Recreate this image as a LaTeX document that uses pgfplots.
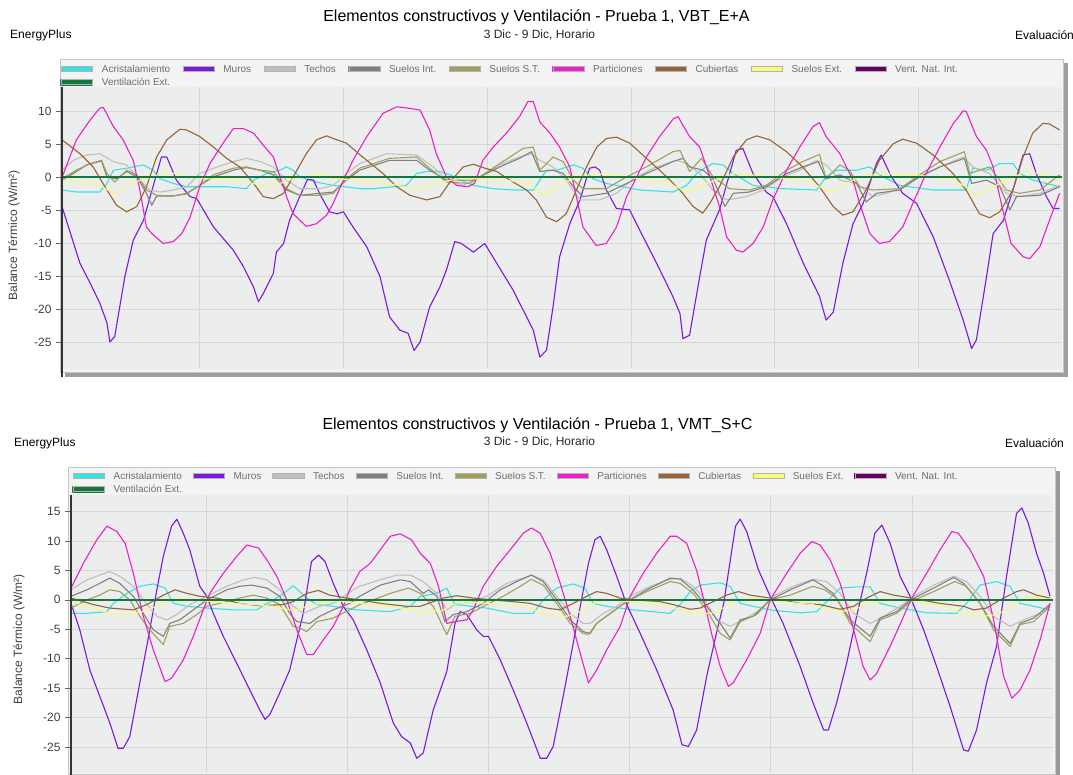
\documentclass[border=0pt]{standalone}
\usepackage{pgfplots}
\pgfplotsset{compat=1.18}
\usepackage{fontspec}
\setmainfont{Liberation Sans}

\definecolor{cAcr}{RGB}{51,228,228}
\definecolor{cMur}{RGB}{122,24,224}
\definecolor{cTec}{RGB}{190,190,190}
\definecolor{cSin}{RGB}{128,128,128}
\definecolor{cSst}{RGB}{160,160,90}
\definecolor{cPar}{RGB}{236,32,200}
\definecolor{cCub}{RGB}{150,100,55}
\definecolor{cSex}{RGB}{250,250,120}
\definecolor{cVni}{RGB}{100,0,100}
\definecolor{cVex}{RGB}{22,118,62}
\definecolor{plotbg}{RGB}{236,237,237}
\definecolor{framebg}{RGB}{243,243,243}
\definecolor{gridc}{RGB}{215,215,215}
\definecolor{txtgray}{RGB}{110,110,110}

\pgfplotsset{
  panel/.style={
    scale only axis,
    xmin=1, xmax=168,
    axis background/.style={fill=plotbg},
    axis line style={draw=none},
    xtick={24,48,72,96,120,144},
    xticklabels={},
    xtick style={draw=none},
    ytick pos=left,
    tick align=outside,
    ytick style={draw=black!60, line width=0.6pt},
    major tick length=6pt,
    grid=major,
    major grid style={draw=gridc, line width=0.6pt},
    yticklabel style={font=\fontsize{12}{14}\selectfont, text=black!75, xshift=-1pt},
    /pgf/number format/assume math mode=true,
    ylabel={Balance Térmico (W/m²)},
    ylabel style={font=\fontsize{12}{14}\selectfont, text=black!75, anchor=center},
    legend columns=9,
    legend cell align=left,
    legend style={draw=none, fill=none, font=\fontsize{10}{12}\selectfont, text=txtgray,
      anchor=north west, inner sep=0pt,
      nodes={inner sep=1.5pt, text height=8pt, text depth=2pt}},
    legend image code/.code={\fill[##1] (0pt,-2.5pt) rectangle (31pt,2.5pt);
      \draw[black!30, line width=0.5pt] (0pt,-2.5pt) rectangle (31pt,2.5pt);
      \path (38pt,0pt);},
    every axis plot/.append style={line width=1.1pt, line join=round},
    extra description/.code={\draw[black!80, line width=1.3pt] (axis description cs:0,-0.03) -- (axis description cs:0,1);},
  }
}

\begin{document}
\begin{tikzpicture}[x=1pt,y=1pt]
\useasboundingbox (0pt,0pt) rectangle (1073pt,774pt);

% ---------- top panel texts ----------
\node[font=\fontsize{16}{19}\selectfont] at (536.5pt,757pt) {Elementos constructivos y Ventilación - Prueba 1, VBT\_E+A};
\node[font=\fontsize{12}{14}\selectfont, text=black!85] at (539.5pt,739pt) {3 Dic - 9 Dic, Horario};
\node[font=\fontsize{12}{14}\selectfont, anchor=west, inner sep=0pt] at (10pt,739pt) {EnergyPlus};
\node[font=\fontsize{12}{14}\selectfont, anchor=west, inner sep=0pt] at (1015pt,739pt) {Evaluación};

% frame top
\fill[black!38] (65pt,397pt) rectangle (1068pt,711pt);
\filldraw[fill=framebg, draw=black!22, line width=0.8pt] (60pt,402pt) rectangle (1063pt,715pt);

\begin{axis}[panel, at={(62pt,405pt)}, anchor=south west, width=1000pt, height=282pt,
  ymin=-29, ymax=13.7, ytick={-25,-20,...,10},
  ylabel style={at={(axis description cs:-0.048,0.475)}},
  legend style={at={(axis description cs:-0.0018,1.087)},
    /tikz/every even column/.append style={column sep=11pt}}]
\addplot[cAcr] coordinates {(1,-1.9) (3.4,-2.2) (7.3,-2.2) (8.5,-0.9) (9.6,1.1) (11.8,1.4) (14.6,1.9) (16.2,1.1) (17.4,-0.2) (19.6,-0.9) (21.8,-1.4) (25.2,-1.4) (28.5,-1.4) (31.8,-1.7) (33,-0.4) (35.2,0.6) (37.4,1.1) (38.5,1.6) (39.6,1.1) (40.7,0.1) (43.5,-0.7) (46.3,-1.2) (50.8,-1.7) (53,-1.7) (58.5,-1.2) (60.2,0.6) (61.9,0.9) (64.1,0.9) (65.8,0.4) (67.4,-0.3) (69.7,-1.2) (73,-1.7) (76.3,-1.9) (79.7,-1.9) (80.8,-0.4) (81.9,1.1) (83.6,1.1) (86.4,1.9) (88,1.4) (89.7,-0.2) (91.9,-0.9) (97.5,-1.9) (103.1,-2.2) (105.3,-1.2) (107,0.6) (108.6,1.6) (109.7,2.1) (111.4,1.9) (113.1,0.6) (116.4,-1.2) (121.4,-1.7) (127,-1.9) (128.6,0.1) (130.3,1.1) (133.7,1.1) (135.9,1.6) (137.5,0.4) (140.9,-1.2) (146.5,-1.9) (152,-1.9) (153.1,1.4) (155.4,1.1) (157.6,2.1) (159.8,2.1) (161,0.6) (163.1,-0.4) (167.6,-1.4)};
\addlegendentry{Acristalamiento}
\addplot[cMur] coordinates {(1,-4.4) (4,-13) (5.7,-16) (7.3,-19) (8.5,-22) (9,-24.9) (9.8,-24.1) (11.5,-15) (12.9,-9.5) (14.6,-6.5) (16.2,-1.4) (17.6,3.1) (18.5,3.1) (20.1,-0.4) (22.4,-2.9) (23.5,-3.2) (26.3,-7.5) (29.6,-11) (31.3,-13.5) (33,-16.6) (33.8,-18.8) (34.6,-17.6) (36.3,-14.5) (36.8,-11.3) (38,-10) (39,-6.5) (40.7,-2.9) (42,-0.3) (43,-0.4) (44,-2.4) (45.7,-5.2) (46.9,-5.5) (48,-5.2) (49.6,-7.5) (51.9,-10.5) (54.1,-15) (55.7,-21.1) (57.4,-23.1) (58.8,-23.6) (59.8,-26.2) (60.8,-24.9) (62.4,-19.6) (64.1,-16.6) (65.2,-14) (66.6,-9.7) (67.7,-10) (69.7,-11.3) (71.6,-10) (73.6,-13) (76.3,-17) (79.7,-23.1) (80.8,-27.2) (81.9,-26.2) (83,-19.6) (84.1,-12) (85.8,-7) (87.5,-3.4) (89.1,1.4) (90,1.6) (90.8,1.1) (91.9,-1.9) (93.6,-4.7) (95.8,-4.9) (97.5,-8) (100.3,-13) (103,-18) (104.2,-20.6) (104.7,-24.4) (105.8,-23.9) (107.5,-15) (108.6,-9.5) (110.8,-4.9) (112.5,0.6) (113.6,4.1) (114.7,4.4) (116.4,0.6) (118.6,-2.2) (119.7,-2.9) (122,-7) (124.8,-13) (127.5,-18) (128.6,-21.6) (129.8,-20.4) (131.4,-13) (133.1,-7) (134.8,-3.9) (137,2.1) (137.8,3.4) (139.5,0.1) (141.4,-2.4) (143.7,-3.9) (146.5,-9) (149.2,-15.6) (151.5,-21.6) (152.9,-25.9) (153.7,-24.6) (155.4,-15) (156.5,-8.5) (158.2,-6.5) (159.8,-1.9) (161.5,3.4) (162.6,3.6) (163.7,0.6) (165.4,-2.9) (166.5,-4.7) (167.6,-4.7)};
\addlegendentry{Muros}
\addplot[cTec] coordinates {(1,1.1) (2.9,2.6) (5.1,3.4) (7.3,3.6) (9.6,2.4) (11.8,1.9) (14,-0.4) (15.7,-1.9) (17.4,-2.2) (19.6,-1.9) (21.8,-1.4) (24,0.6) (26.3,1.4) (29.6,2.4) (31.8,2.9) (34.1,2.4) (36.3,1.6) (38.5,-0.4) (40.7,-1.7) (44.1,-1.7) (46.3,-1.2) (48.5,0.6) (50.7,2.1) (55.2,3.6) (60.2,3.4) (63,1.6) (65.2,-0.4) (68,-1.2) (70.8,0.1) (74.1,1.9) (77.4,3.1) (79.4,3.6) (80.8,2.6) (83,1.6) (85.2,-0.4) (87.5,-3.4) (90.8,-3.4) (93.6,-2.4) (96.4,-0.2) (99.7,1.4) (103.6,2.6) (105.3,2.1) (107.5,0.6) (109.7,-1.9) (112,-3.4) (115.3,-2.9) (118.1,-1.9) (121.4,0.1) (124.2,1.1) (127,2.6) (128.6,1.9) (130.9,-0.4) (133.7,-0.9) (136.4,-2.9) (138.7,-2.4) (141.4,-1.4) (144.2,0.1) (147.6,1.6) (151.5,3.1) (153.1,1.6) (155.9,0.6) (158.7,-2.4) (160.9,-2.9) (164.3,-2.4) (167.6,-1.2)};
\addlegendentry{Techos}
\addplot[cSin] coordinates {(1,-0.4) (2.9,0.6) (5.1,1.9) (7.6,2.5) (8.5,0.1) (10.1,-0.2) (11.8,0.9) (13.5,0.1) (15.1,-2.4) (16,-4.2) (16.8,-2.8) (19.6,-2.8) (21.8,-2.4) (24,-1.2) (26.3,0.1) (29.6,1.1) (31.8,1.5) (34.1,1.1) (36.3,0.4) (38.5,-1.9) (40.7,-2.7) (44.1,-2.4) (46.3,-2.2) (48.5,-0.4) (50.7,1.1) (55.7,2.6) (60.2,2.6) (62.4,1.1) (65.2,-0.4) (69.7,-0.4) (74.1,1.6) (77.4,2.9) (79.4,3.9) (80.8,0.9) (83,1.1) (84.7,0.6) (86.4,-1.4) (88,-2.9) (91.9,-2.4) (95.3,-0.9) (98.6,0.6) (103,2.4) (104.7,2.9) (105.8,1.6) (108.1,1.1) (109.7,-0.2) (111.7,-4.4) (113.1,-2.4) (115.8,-2.2) (118.6,-1.4) (122,0.6) (124.7,1.6) (127.3,2.4) (128.6,-0.2) (130.9,0.4) (133.7,-0.9) (135.3,-3.7) (137,-2.4) (140.9,-1.9) (144.2,0.1) (147.6,1.6) (151.7,2.9) (152.9,-0.9) (155.4,-0.4) (157.6,-1.4) (159.3,-4.9) (160.4,-2.9) (164.3,-2.7) (167.6,-1.4)};
\addlegendentry{Suelos Int.}
\addplot[cSst] coordinates {(1,-0.2) (3.4,1.1) (5.7,2.1) (7.6,2.6) (8.5,0.6) (9.8,-0.7) (11.8,1.1) (13.5,0.4) (15.1,-1.9) (16.8,-2.7) (19.6,-2.8) (21.8,-2.5) (24,-1.2) (26.3,0.4) (29.6,1.4) (31.8,1.6) (34.1,1.1) (36.3,0.9) (38.5,-1.7) (40.7,-2.7) (44.1,-2.7) (46.3,-2.4) (48.5,-0.2) (50.7,1.4) (55.7,2.9) (60.2,3.1) (62.4,1.4) (65.2,-0.7) (69.1,-0.9) (74.1,2.1) (78,4.4) (79.7,4.6) (80.8,1.1) (83,3.1) (84.7,2.4) (86.4,-0.4) (88,-1.7) (91.9,-1.7) (95.3,0.1) (98.6,1.6) (103,3.9) (104.2,4.1) (105.8,0.9) (107.8,2.9) (109.7,0.1) (112.5,-1.7) (115.8,-1.9) (118.6,-1.2) (122,1.1) (124.7,2.4) (127.5,3.5) (128.6,-0.2) (130.9,1.9) (132.5,1.1) (134.2,-1.4) (136.4,-1.9) (140.9,-1.7) (144.2,0.4) (147.6,2.4) (151.7,3.9) (152.6,0.6) (154.2,1.1) (155.9,1.6) (157.6,-0.4) (158.7,-1.9) (160.9,-2.4) (164.3,-1.9) (167.6,0.4)};
\addlegendentry{Suelos S.T.}
\addplot[cPar] coordinates {(1,0) (3.4,5.7) (5.7,8.7) (7.3,10.5) (7.9,10.6) (9.6,7.7) (11.2,5.7) (12.9,2.6) (14,-1.9) (15.1,-7.5) (16,-8.5) (17.9,-10) (19.6,-9.7) (21,-8.5) (22.4,-6) (24,-1.4) (25.7,2.1) (27.9,5.2) (29.6,7.4) (31.3,7.4) (33,6.7) (34.6,4.9) (36.3,3.1) (37.4,0.1) (38.5,-2.9) (39.6,-5.5) (41.8,-7.4) (43.5,-7) (45.2,-5.7) (46.3,-3.9) (48,-0.4) (49.6,2.6) (51.9,6.2) (54.6,9.7) (56.9,10.7) (58.8,10.5) (60.8,10.2) (62.4,7.2) (63.5,3.6) (65.2,0.1) (66.9,-1.2) (68.8,-1.4) (69.9,-0.9) (71.3,2.6) (73,4.6) (75.2,6.7) (77.4,9.2) (78.8,11.5) (79.7,11.5) (80.8,8.4) (82.5,6.7) (84.1,4.6) (85.8,1.6) (86.9,-2.9) (88,-7.5) (90.2,-10.3) (91.9,-10) (93.6,-7.5) (95.3,-2.9) (97,0.1) (98.6,3.1) (100.8,6.2) (103.1,8.9) (103.9,9.2) (104.7,7.9) (105.8,6.2) (107.5,4.6) (109.2,0.1) (110.8,-4.4) (112,-9) (113.6,-11) (114.7,-11.3) (116.4,-10) (118.1,-7.5) (119.7,-3.4) (122,1.1) (124.2,4.6) (126.4,7.7) (127.5,8.3) (128.6,6.2) (130.9,3.6) (133.1,-0.4) (134.2,-3.9) (135.9,-8.5) (137.5,-10) (139.2,-9.7) (141.4,-7.5) (143.1,-3.9) (145.3,0.6) (147.6,4.6) (149.8,8.1) (151.5,10.1) (152,10) (153.7,6.2) (155.4,4.1) (156.5,1.6) (158.1,-4.9) (159.5,-10) (161.5,-12) (162.6,-12.3) (164.3,-10.5) (165.9,-6.5) (167.6,-2.4)};
\addlegendentry{Particiones}
\addplot[cCub] coordinates {(1,5.7) (4,3.6) (6.2,1.6) (8.5,-1.9) (10.1,-4.2) (11.8,-5.2) (13.5,-4.4) (15.1,-1.4) (16.8,3.1) (18.5,5.7) (20.7,7.3) (21.8,7.2) (24,6.2) (26.3,4.6) (28.5,2.9) (30.7,1.6) (33,-0.9) (34.6,-2.9) (36.3,-3.2) (38,-2.4) (39.6,0.1) (41.8,3.6) (43.5,5.7) (45.2,6.3) (46.9,5.7) (48.5,5.2) (50.8,3.4) (51.9,2.6) (54.6,0.6) (56.9,-1.4) (59.1,-2.7) (61.9,-3.4) (64.1,-2.9) (65.8,-0.7) (68,1.6) (69.7,2) (71.3,1.5) (73.6,0.9) (75.8,-0.4) (78.6,-1.9) (80.2,-3.4) (81.9,-6) (83.6,-6.7) (85.2,-5.5) (86.9,-1.9) (88.6,1.6) (90.3,4.6) (91.9,5.9) (93.6,6.1) (95.8,5.2) (98.6,2.9) (101.4,0.6) (104.2,-1.9) (106.4,-4.4) (108,-5.4) (109.2,-3.9) (110.8,-1.4) (113.1,3.1) (115.3,5.7) (117,6.3) (119.2,5.7) (122,3.9) (124.7,1.6) (127.5,-1.4) (129.8,-4.4) (131.4,-5.7) (133.1,-5.2) (135.3,-1.9) (137.5,2.6) (139.8,5.1) (141.4,5.8) (143.7,5.2) (146.5,3.4) (149.8,0.6) (152,-1.9) (154.2,-5.5) (155.9,-6.1) (157.6,-5.2) (159.8,-1.9) (161.5,3.1) (163.1,6.7) (164.8,8.2) (165.9,8.1) (167.6,7.2)};
\addlegendentry{Cubiertas}
\addplot[cSex] coordinates {(1,-0.4) (4.6,-0.7) (7.3,-1.2) (9.6,-2.4) (11.2,-1.9) (12.9,-0.7) (15.1,-0.2) (18.5,0.9) (21.8,0.1) (25.2,-0.2) (29.6,-0.4) (33,-0.9) (34.6,-1.4) (37.4,-0.9) (40.7,0.1) (44.1,0.4) (46.3,-0.2) (50.8,-0.4) (53,-0.7) (57.4,-1.2) (59.6,-1.7) (61.9,-1.4) (64.1,-0.7) (67.4,-0.2) (70.8,-0.2) (75.2,-0.4) (79.1,-0.9) (81.3,-2.7) (83.6,-1.4) (86.4,-0.2) (89.7,0.6) (93.1,0.4) (97.5,-0.2) (102,-0.7) (105.3,-2.2) (107.5,-1.3) (110.8,-0.2) (113.1,0.6) (116.4,0.4) (122,-0.2) (125.9,-0.7) (127.5,-1.4) (129.5,-2.2) (131.4,-1.2) (134.2,0.1) (138.1,0.6) (143.7,0.4) (149.8,-0.4) (152,-1.4) (153.1,-2.9) (155.4,-1.9) (158.7,-0.4) (162,0.9) (165.4,0.4) (167.6,-0.2)};
\addlegendentry{Suelos Ext.}
\addplot[cVni] coordinates {(1,0) (168,0)};
\addlegendentry{Vent. Nat. Int.}
\addplot[cVex, line width=2pt] coordinates {(1,0) (168,0)};
\addlegendentry{Ventilación Ext.}
\end{axis}

% ---------- bottom panel texts ----------
\node[font=\fontsize{16}{19}\selectfont] at (537.5pt,349pt) {Elementos constructivos y Ventilación - Prueba 1, VMT\_S+C};
\node[font=\fontsize{12}{14}\selectfont, text=black!85] at (539.5pt,332pt) {3 Dic - 9 Dic, Horario};
\node[font=\fontsize{12}{14}\selectfont, anchor=west, inner sep=0pt] at (14pt,331pt) {EnergyPlus};
\node[font=\fontsize{12}{14}\selectfont, anchor=west, inner sep=0pt] at (1005pt,331pt) {Evaluación};

\fill[black!40] (72pt,-5pt) rectangle (1060pt,303pt);
\filldraw[fill=framebg, draw=black!22, line width=0.8pt] (68pt,0pt) rectangle (1055pt,307pt);

\begin{axis}[panel, at={(71pt,1pt)}, anchor=south west, width=982pt, height=278pt,
  ymin=-29.4, ymax=17.8, ytick={-25,-20,...,15},
  ylabel style={at={(axis description cs:-0.053,0.482)}},
  legend style={at={(axis description cs:0.001,1.092)},
    /tikz/every even column/.append style={column sep=9.5pt}}]
\addplot[cAcr] coordinates {(1,-2.3) (3.7,-2.3) (7.1,-2) (8.2,-0.6) (10.5,1.1) (12.7,2.3) (15,2.7) (17,2) (18.4,-0.6) (20.7,-1.1) (24.1,-1.4) (28.6,-1.7) (32.6,-1.7) (34.3,-0.6) (36.5,0.6) (38.8,2.4) (39.9,1.4) (41.1,0.3) (42.8,-0.8) (45.6,-1.1) (49.6,-1.7) (55.3,-2) (58.7,-1.1) (60.4,0.6) (63.2,1.1) (64.9,2) (66.3,-0.8) (68.3,-1) (71.7,-1.4) (76.2,-2.3) (79.6,-2.3) (81.3,0) (83.6,2) (86.4,2.7) (88.4,2) (89.8,-0.6) (92.1,-1.1) (96.6,-1.7) (102.9,-2.3) (104.6,-0.8) (106.3,1.4) (108,2.5) (111.4,2.9) (113.1,2.3) (114.8,-0.6) (117,-1.1) (120.4,-1.8) (125,-2.2) (127.8,-2) (129.5,-0.3) (131.8,2) (134.6,2.2) (136.9,2.2) (138.6,-0.6) (142,-1.4) (146.5,-2.2) (151.6,-2.3) (153.3,-0.6) (155.6,2.5) (158.4,3.1) (160.7,2.3) (162.4,-0.6) (164.7,-1.1) (167.5,-1.7)};
\addlegendentry{Acristalamiento}
\addplot[cMur] coordinates {(1,-0.6) (2.5,-5.1) (4.2,-11.9) (5.9,-16.4) (7.6,-20.9) (9,-25.2) (9.9,-25.2) (11,-23.2) (12.7,-14.1) (14.2,-6.2) (15.6,1.7) (16.7,7.4) (18.1,12.5) (19,13.7) (20.1,11.3) (21.2,8.5) (22.9,2.3) (24.1,0.6) (25.2,-2.3) (26.9,-6.2) (29.2,-10.8) (31.4,-15.3) (33.1,-18.7) (34,-20.3) (34.8,-19.5) (36.5,-15.8) (38.2,-11.9) (39.4,-6.8) (40.5,-2.3) (41.9,6.5) (43.1,7.6) (44.2,6.5) (45.6,2.8) (47.3,-1.1) (49,-3.4) (51.3,-8.5) (53.6,-14.1) (55.8,-20.9) (57.2,-23.2) (58.7,-24.3) (59.8,-26.9) (60.9,-26) (62.6,-18.7) (64.9,-12.2) (66.3,-4) (67.2,-2) (68.3,-2.5) (70,-5.1) (71.1,-6.2) (72,-6.2) (74,-10.2) (76.2,-15.3) (78.5,-20.9) (80.8,-26.9) (81.9,-26.9) (83,-24.9) (84.7,-16.4) (86.4,-7.4) (87.6,-1.1) (89,6.2) (90.1,10.2) (91,10.8) (92.1,8.5) (93.8,4) (95.5,-0.8) (97.8,-5.7) (100.6,-11.9) (103.4,-18.7) (104.9,-24.6) (106,-24.9) (107.4,-22.1) (109.1,-13) (110.8,-5.5) (112,-0.6) (114,12.5) (114.8,13.7) (115.9,11.6) (117.9,5.1) (119.9,0.6) (122.1,-4) (125,-11.3) (127.2,-17.5) (129,-22.1) (129.8,-22.1) (131.2,-17.5) (132.9,-10.8) (134.6,-2.8) (136.3,4.5) (137.7,11.3) (138.9,12.7) (140.3,9.6) (142,4) (143.7,0.6) (146,-5.1) (148.2,-11.3) (150.5,-18.1) (152.8,-25.5) (153.6,-25.7) (155,-22.1) (156.7,-14.1) (158.4,-7.9) (160.1,4) (161.8,14.7) (162.7,15.6) (163.8,13) (165.2,7.9) (166.4,4.5) (167.5,0.6)};
\addlegendentry{Muros}
\addplot[cTec] coordinates {(1,1.7) (3.7,3.4) (5.9,4.2) (7.6,4.8) (9.3,4) (11.6,2.3) (13.3,0) (15.6,-2.8) (17.3,-3.4) (19,-2.5) (21.2,-0.8) (24.1,0.6) (27.5,2.3) (30.3,3.4) (32.3,3.8) (34.3,3.4) (36.5,1.7) (38.2,-0.6) (40.5,-2.3) (43.3,-1.1) (45.6,-0.6) (49,1.7) (50.1,2.3) (53.6,3.4) (56.4,4.2) (58.7,4.2) (60.9,3.1) (63.2,1.1) (64.9,-1.7) (66.6,-0.6) (69.4,-0.3) (71.7,0.6) (75.1,2.8) (77.9,3.7) (79.3,4.2) (81.3,3.4) (83.6,0.6) (85.9,-2.3) (88.1,-4) (89.3,-4) (91.5,-2.3) (93.8,-1.1) (96.1,0.6) (99.5,2.3) (102.9,3.5) (104.6,3.7) (106.8,2.3) (108.5,0.5) (110.8,-3.4) (113.1,-4.5) (115.3,-3.4) (118.2,-1.7) (120.4,0.6) (123.8,2.3) (127.2,3.5) (129.5,3.1) (131.8,1.1) (134.1,-2.3) (136.9,-4) (139.2,-2.8) (142,-1.1) (144.3,0.6) (147.7,2.5) (151.1,4) (153.3,3.1) (155.6,0.6) (157.9,-2.8) (160.7,-4.5) (163,-3.4) (165.8,-2.3) (167.5,-0.6)};
\addlegendentry{Techos}
\addplot[cSin] coordinates {(1,0.6) (3.7,1.7) (5.9,2.8) (7.6,3.7) (9.3,2.8) (11.6,0.6) (13.3,-2.3) (15,-5.1) (16.7,-6.2) (17.8,-4) (19.5,-3.4) (21.8,-1.7) (24.1,0) (27.5,1.7) (29.7,2.3) (31.7,2.5) (34.3,2) (36.5,0.6) (38.2,-2.3) (39.4,-3.7) (41.6,-4) (43.3,-2.8) (45.6,-1.7) (48.4,-0.6) (50.1,0.6) (53.6,2.5) (57,3.4) (58.7,3.1) (60.9,1.1) (61.8,1.7) (63.2,0.6) (64.6,-3.7) (66,-2.5) (68.3,-2) (71.1,-0.6) (74,1.7) (76.8,3.1) (79.3,4.2) (81.3,3.1) (83.6,0) (85.9,-3.4) (88.1,-5.4) (89.3,-5.7) (90.4,-4) (92.7,-2.3) (95.5,-0.3) (98.9,1.7) (102.9,3.7) (104.6,3.5) (106.8,1.7) (109.1,-1.1) (111.4,-4) (113.1,-6.5) (114.8,-3.4) (117,-2.8) (119.9,0) (123.3,1.7) (127.2,3.4) (128.7,2.5) (130.6,1.1) (133.5,-3.4) (136.9,-6.2) (138.6,-3.1) (141.4,-2) (143.8,0) (147.7,2) (151.1,3.8) (152.8,2.8) (155.6,-0.6) (157.9,-4.5) (160.7,-7.4) (162.4,-4) (164.7,-3.1) (167.5,-0.8)};
\addlegendentry{Suelos Int.}
\addplot[cSst] coordinates {(1,-1.4) (3.7,0) (5.9,0.8) (7.6,1.7) (9.3,1.4) (11,0) (12.7,-2.8) (14.4,-5.1) (16.7,-7.6) (17.8,-4.5) (20.1,-4) (22.4,-2.5) (24.1,-1.1) (27.5,-0.3) (29.7,0.3) (32,0.8) (34.3,0.3) (36.5,-0.8) (38.8,-4.5) (39.9,-4.8) (41.1,-5.4) (42.8,-3.7) (45.6,-3.1) (48.4,-1.7) (50.1,-0.8) (52.4,0) (55.3,1.1) (58.4,2) (60.4,1.1) (62.6,-1.1) (64.9,-5.9) (66.3,-2.8) (68.9,-2.3) (71.7,-0.8) (74.5,0.6) (77.4,2.3) (79.3,3.5) (81.3,2.5) (83.6,-0.6) (85.9,-4) (88.1,-5.7) (89,-5.9) (90.4,-4) (92.7,-2.3) (95.5,-0.3) (98.9,1.4) (102.9,3.1) (104.6,2.8) (106.8,1.1) (109.1,-1.7) (111.4,-5.7) (113.1,-6.8) (114.8,-3.7) (117.6,-2.5) (119.9,0) (123.3,0.8) (127.2,2.3) (129.2,1.7) (131.2,0.3) (133.5,-4) (136.9,-7.1) (138.6,-3.4) (141.4,-2.3) (143.8,-0.3) (147.7,1.4) (151.3,3.1) (153.3,2.3) (155.6,-0.6) (157.9,-5.1) (160.7,-7.9) (162.4,-4.2) (164.7,-3.7) (167.5,-1.1)};
\addlegendentry{Suelos S.T.}
\addplot[cPar] coordinates {(1,2) (3.1,6.2) (5.4,10.2) (7.1,12.5) (8.8,11.6) (10.2,9.6) (11.6,4.5) (13.3,-2.8) (15,-8.5) (17,-13.9) (18.1,-13.3) (20.1,-10.2) (21.8,-6.2) (23.5,-1.7) (24.6,1.1) (26.9,4.5) (29.2,7.4) (30.9,9.3) (32.9,8.8) (34.3,6.8) (36,4) (37.7,0) (39.4,-5.1) (41.1,-9.3) (42.2,-9.3) (43.9,-6.8) (45.6,-4.5) (47.3,-1.1) (48.4,1.7) (50.1,4.8) (51.9,6.2) (55.3,10.8) (57,11.2) (58.9,10.2) (60.4,7.9) (62.1,6.2) (63.5,2.3) (64.9,-4) (66.3,-3.7) (68.3,-3.4) (69.4,-1.7) (71.1,2.3) (73.4,5.7) (75.7,8.5) (77.9,11.3) (79.3,12.2) (80.8,11.3) (82.5,7.9) (84.2,2.8) (85.9,-2.8) (87.6,-9.1) (89,-14.1) (90.4,-11.9) (92.1,-8.5) (94.4,-4.5) (96.1,0.6) (98.3,4.5) (100.6,7.9) (102.9,10.8) (104,10.8) (105.7,9.6) (107.4,5) (108.6,0) (110,-6) (111.4,-11.3) (112.8,-14.7) (113.6,-14.1) (115.9,-10.2) (118.2,-5.7) (119.9,0) (122.7,4.5) (125,7.9) (127,9.9) (128.4,9.3) (130.1,6.8) (131.8,2.8) (134.1,-5.1) (135.7,-11.3) (136.9,-13.6) (138,-12.5) (140.3,-7.9) (142.6,-2.8) (143.8,0) (146.5,4.5) (148.8,8.5) (150.8,11.6) (151.9,11.3) (153.9,8.5) (156.2,4) (157.9,-3.4) (159.6,-13) (161,-16.7) (162.4,-15.3) (164.1,-11.9) (165.8,-6.8) (167.5,-0.6)};
\addlegendentry{Particiones}
\addplot[cCub] coordinates {(1,0.3) (4.8,-0.8) (7.6,-1.4) (11.6,-1.7) (13.9,-0.8) (16.7,0.8) (18.7,1.7) (20.7,1.1) (22.9,0.6) (25.8,0.3) (29.7,-0.6) (33.1,-1) (37.1,-0.8) (38.8,-0.3) (41.1,1.1) (43.1,1.6) (45,0.8) (47.9,0.3) (50.1,0) (53.6,-0.6) (58.1,-1.1) (60.4,-1.1) (62.6,-0.3) (64.3,0.3) (66.6,0.7) (69.4,0.3) (72.3,0) (76.2,-0.3) (79.1,-0.6) (81.9,-1.4) (84.2,-1.7) (86.4,-0.6) (88.7,0.6) (90.4,1.4) (92.1,1.1) (94.4,0.3) (96.6,0) (101.2,-0.3) (103.4,-0.8) (106.3,-1.6) (108,-1.4) (110.2,-0.3) (112.5,0.8) (114.5,1.4) (116.5,0.8) (119.9,0.3) (125,-0.6) (128.4,-0.8) (131.8,-1.6) (134.1,-1.1) (136.3,0.3) (138.6,1.4) (140.9,0.8) (143.8,0.3) (148.8,-0.6) (152.8,-1.1) (154.5,-1.7) (156.7,-1.4) (159,0) (161.8,1.4) (163,1.7) (165.2,0.8) (167.5,0.3)};
\addlegendentry{Cubiertas}
\addplot[cSex] coordinates {(1,-0.3) (4.8,-1.4) (7.6,-2.3) (10.5,-2.5) (13.3,-2) (15.6,-1.1) (17.3,-0.3) (19,0.3) (21.8,0) (25.2,-0.3) (28.6,-0.6) (32,-0.8) (35.4,-1.1) (38.2,-1.7) (39.4,-1.7) (41.1,-1.1) (43.3,-0.6) (45.6,-0.1) (50.1,-0.6) (54.7,-1.1) (59.2,-1.7) (60.9,-2.5) (62.1,-1.7) (63.8,-2) (66,-0.8) (68.3,-0.3) (71.7,-0.6) (75.1,-0.8) (79.1,-1.4) (81.9,-2.5) (85.3,-2.8) (87.6,-2) (89.8,-0.6) (92.1,0) (96.1,-0.3) (100,-0.8) (103.4,-1.4) (106.8,-2.3) (109.1,-2.3) (110.2,-2.2) (112.5,-1.1) (114.2,0) (117,0.3) (119.9,0) (123.8,-0.5) (127.2,-0.8) (129.5,-1.7) (131.8,-2) (134.1,-1.7) (136.3,-0.8) (138.6,-0.3) (143.1,0) (147.7,-0.8) (151.1,-1.7) (153.3,-2.5) (156.2,-2.8) (158.4,-2.5) (160.7,-1.4) (163,0.3) (165.2,0.5) (167.5,0.1)};
\addlegendentry{Suelos Ext.}
\addplot[cVni] coordinates {(1,0) (168,0)};
\addlegendentry{Vent. Nat. Int.}
\addplot[cVex, line width=2pt] coordinates {(1,0) (168,0)};
\addlegendentry{Ventilación Ext.}
\end{axis}
\end{tikzpicture}
\end{document}
